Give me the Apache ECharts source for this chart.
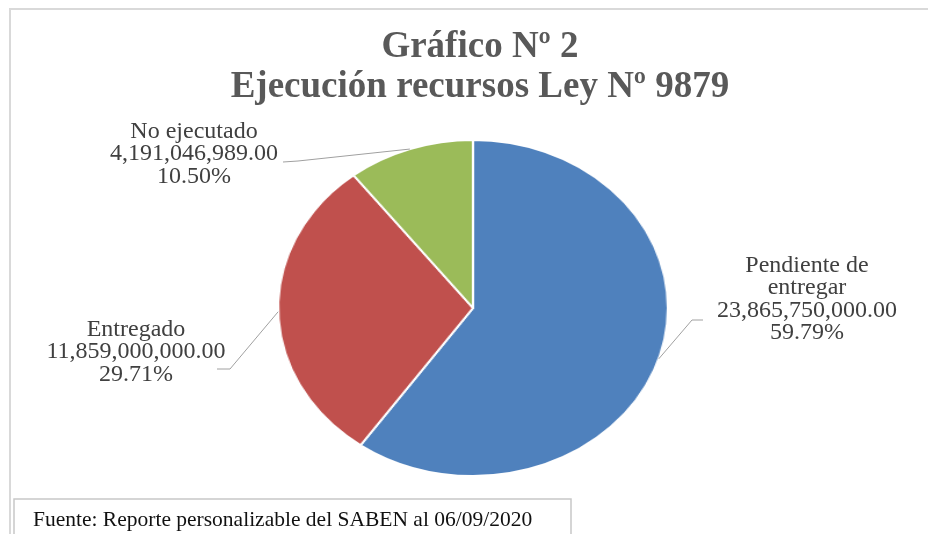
<!DOCTYPE html>
<html>
<head>
<meta charset="utf-8">
<script src="https://cdn.jsdelivr.net/npm/echarts@6/dist/echarts.min.js"></script>
<style>
  html, body { margin: 0; padding: 0; background: #fff; }
  #wrap { position: relative; width: 928px; height: 534px; overflow: hidden; background: #fff; }
  /* el pastel de Excel sale achatado: se estira en horizontal */
  #pie { position: absolute; left: 273px; top: 108px; width: 400px; height: 400px;
         transform: scaleX(1.16); transform-origin: 50% 50%; }
  #main { position: absolute; left: 0; top: 0; width: 928px; height: 534px; }
</style>
</head>
<body>
<div id="wrap">
  <div id="pie"></div>
  <div id="main"></div>
</div>
<script>
// datos del gráfico
var categories = ["Pendiente de\nentregar", "Entregado", "No ejecutado"];
var amounts = [23865750000, 11859000000, 4191046989];
var sliceColors = ["#4F81BD", "#C0504D", "#9BBB59"];
var titleText = "Gráfico Nº 2\nEjecución recursos Ley Nº 9879";
var sourceText = "Fuente: Reporte personalizable del SABEN al 06/09/2020";

var serif = "'Liberation Serif', 'Times New Roman', serif";
var cx = 473, cy = 308, R = 168, stretch = 1.16;

// donde va cada etiqueta (centro) y el codo de su línea guía
var labelSpots = [
  { x: 807, y: 299, end: [703, 320], elbow: [692, 320] },
  { x: 136, y: 352, end: [217, 369], elbow: [230, 369] },
  { x: 194, y: 154, end: [283, 162], elbow: [298, 161] }
];

var pieData = [];
for (var i = 0; i < categories.length; i++) {
  pieData.push({ name: categories[i], value: amounts[i] });
}

function money(v) {
  return v.toLocaleString("en-US", { minimumFractionDigits: 2, maximumFractionDigits: 2 });
}

// pastel solo (se deforma con CSS)
var pieChart = echarts.init(document.getElementById("pie"));
pieChart.setOption({
  animation: false,
  series: [{
    type: "pie",
    center: ["50%", "50%"],
    radius: R,
    startAngle: 90,
    clockwise: true,
    label: { show: false },
    labelLine: { show: false },
    emphasis: { disabled: true },
    itemStyle: { borderColor: "#fff", borderWidth: 2 },
    color: sliceColors,
    data: pieData
  }]
});

// título, marco, fuente y etiquetas encima
var myChart = echarts.init(document.getElementById("main"));
myChart.setOption({
  backgroundColor: "transparent",
  animation: false,
  title: {
    text: titleText,
    left: 475,
    textAlign: "center",
    top: 22,
    textStyle: {
      fontFamily: serif,
      fontWeight: "bold",
      fontSize: 37,
      lineHeight: 40,
      color: "#595959"
    }
  },
  graphic: [
    {
      type: "rect",
      silent: true,
      shape: { x: 10, y: 9, width: 960, height: 600 },
      style: { fill: "none", stroke: "#d9d9d9", lineWidth: 2 }
    },
    {
      type: "rect",
      silent: true,
      shape: { x: 14, y: 499, width: 557, height: 60 },
      style: { fill: "#fff", stroke: "#c8c8c8", lineWidth: 1.5 }
    },
    {
      type: "text",
      silent: true,
      x: 33,
      y: 520,
      style: {
        text: sourceText,
        font: "21.5px " + serif,
        fill: "#111",
        align: "left",
        verticalAlign: "middle"
      }
    }
  ],
  series: [{
    type: "pie",
    silent: true,
    center: [cx, cy],
    radius: R,
    startAngle: 90,
    clockwise: true,
    avoidLabelOverlap: false,
    itemStyle: { color: "rgba(0,0,0,0)", borderWidth: 0 },
    emphasis: { disabled: true },
    label: {
      show: true,
      position: "outside",
      alignTo: "none",
      fontFamily: serif,
      fontSize: 24,
      lineHeight: 22.5,
      color: "#404040",
      formatter: function (p) {
        return p.name + "\n" + money(p.value) + "\n" + p.percent.toFixed(2) + "%";
      }
    },
    labelLine: {
      show: true,
      length: 20,
      length2: 15,
      lineStyle: { color: "#a0a0a0", width: 1 }
    },
    labelLayout: function (params) {
      var spot = labelSpots[params.dataIndex];
      var pts = params.labelLinePoints;
      var start;
      if (pts && pts.length) {
        start = [cx + (pts[0][0] - cx) * stretch, pts[0][1]];
      } else {
        start = spot.elbow;
      }
      return {
        x: spot.x,
        y: spot.y,
        align: "center",
        verticalAlign: "middle",
        labelLinePoints: [start, spot.elbow, spot.end]
      };
    },
    data: pieData
  }]
});
</script>
</body>
</html>
